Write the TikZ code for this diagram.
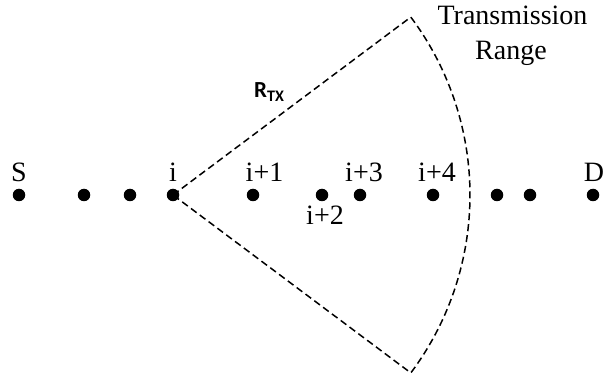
\documentclass[tikz,border=0pt]{standalone}
\usepackage{fontspec}
\usetikzlibrary{calc}
\setmainfont{Liberation Serif}
\newfontfamily\calib{Carlito}
\begin{document}
\begin{tikzpicture}[x=1pt,y=1pt,
  nodedot/.style={circle,fill=black,inner sep=0pt,minimum size=12.5pt},
  lbl/.style={anchor=base,inner sep=0pt,font=\fontsize{28}{32}\selectfont},
  rangeline/.style={line width=1.5pt,dash pattern=on 7pt off 4pt}]
\useasboundingbox (0,0) rectangle (605,375);
% dots
\node[nodedot] (s) at (19,180) {};
\node[nodedot] (d1) at (84,180) {};
\node[nodedot] (d2) at (130,180) {};
\node[nodedot] (i) at (173,180) {};
\node[nodedot] (i1) at (253,180) {};
\node[nodedot] (i2) at (322,180) {};
\node[nodedot] (i3) at (360,180) {};
\node[nodedot] (i4) at (433,180) {};
\node[nodedot] (d3) at (497,180) {};
\node[nodedot] (d4) at (530,180) {};
\node[nodedot] (d) at (593,180) {};
% labels
\node[lbl] (ls) at (19,193) {S};
\node[lbl] (li) at (173,193) {i};
\node[lbl] (li1) at (264.5,193) {i+1};
\node[lbl] (li2) at (325,150) {i+2};
\node[lbl] (li3) at (364,193) {i+3};
\node[lbl] (li4) at (437,193) {i+4};
\node[lbl] (ld) at (594,193) {D};
\node[lbl] (lt) at (512.5,350) {Transmission};
\node[lbl] (lr) at (511,315) {Range};
\node[anchor=base west,inner sep=0pt,font=\calib\bfseries\fontsize{23}{26}\selectfont] (rtx) at (254,277) {R\textsubscript{TX}};
% sector
\coordinate (top) at ($(i.center)+(36.8:297)$);
\draw[rangeline] (i.center) -- (top) arc[start angle=36.8,end angle=-36.8,radius=297] -- (i.center);
\end{tikzpicture}
\end{document}
